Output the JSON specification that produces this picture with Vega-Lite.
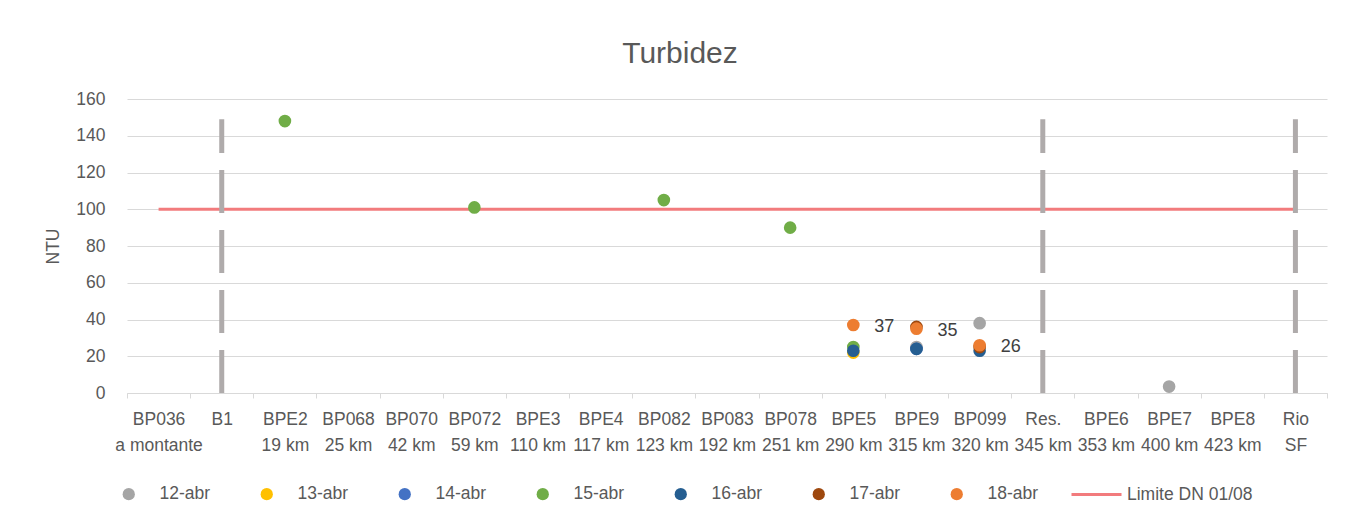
{
  "$schema": "https://vega.github.io/schema/vega-lite/v6.json",
  "width": 1200,
  "height": 294,
  "autosize": {"type": "none"},
  "padding": {"left": 127, "top": 99, "right": 29, "bottom": 132},
  "background": "white",
  "title": {
    "text": "Turbidez",
    "font": "Liberation Sans",
    "fontSize": 30,
    "fontWeight": "normal",
    "color": "#595959",
    "anchor": "middle",
    "dx": -47,
    "baseline": "alphabetic",
    "offset": -3
  },
  "config": {
    "font": "Liberation Sans",
    "view": {"stroke": null},
    "legend": {"padding": 0},
    "axisY": {
      "labelOverlap": false,
      "grid": true,
      "gridColor": "#D9D9D9",
      "domain": false,
      "ticks": false,
      "labelPadding": 22,
      "labelFontSize": 17.5,
      "labelColor": "#595959",
      "titleFontSize": 17.5,
      "titleFontWeight": "normal",
      "titleColor": "#595959",
      "titlePadding": 13
    }
  },
  "datasets": {
    "medicoes": [
      {"estacao": "BPE9|315 km", "data": "12-abr", "ntu": 25},
      {"estacao": "BP099|320 km", "data": "12-abr", "ntu": 38},
      {"estacao": "BPE7|400 km", "data": "12-abr", "ntu": 3.5},
      {"estacao": "BPE5|290 km", "data": "13-abr", "ntu": 22},
      {"estacao": "BPE9|315 km", "data": "14-abr", "ntu": 24},
      {"estacao": "BPE2|19 km", "data": "15-abr", "ntu": 148},
      {"estacao": "BP072|59 km", "data": "15-abr", "ntu": 101},
      {"estacao": "BP082|123 km", "data": "15-abr", "ntu": 105},
      {"estacao": "BP078|251 km", "data": "15-abr", "ntu": 90},
      {"estacao": "BPE5|290 km", "data": "15-abr", "ntu": 25},
      {"estacao": "BPE5|290 km", "data": "16-abr", "ntu": 23},
      {"estacao": "BPE9|315 km", "data": "16-abr", "ntu": 24},
      {"estacao": "BP099|320 km", "data": "16-abr", "ntu": 23},
      {"estacao": "BPE9|315 km", "data": "17-abr", "ntu": 36},
      {"estacao": "BP099|320 km", "data": "17-abr", "ntu": 25},
      {"estacao": "BPE5|290 km", "data": "18-abr", "ntu": 37},
      {"estacao": "BPE9|315 km", "data": "18-abr", "ntu": 35},
      {"estacao": "BP099|320 km", "data": "18-abr", "ntu": 26}
    ],
    "limite": [
      {"estacao": "BP036|a montante", "serie": "Limite DN 01/08", "ntu": 100},
      {"estacao": "Rio|SF", "serie": "Limite DN 01/08", "ntu": 100}
    ],
    "divisores": [
      {"estacao": "B1"},
      {"estacao": "Res.|345 km"},
      {"estacao": "Rio|SF"}
    ]
  },
  "encoding": {
    "x": {
      "field": "estacao",
      "type": "nominal",
      "sort": null,
      "scale": {
        "type": "band",
        "paddingInner": 0,
        "paddingOuter": 0,
        "domain": ["BP036|a montante", "B1", "BPE2|19 km", "BP068|25 km", "BP070|42 km", "BP072|59 km", "BPE3|110 km", "BPE4|117 km", "BP082|123 km", "BP083|192 km", "BP078|251 km", "BPE5|290 km", "BPE9|315 km", "BP099|320 km", "Res.|345 km", "BPE6|353 km", "BPE7|400 km", "BPE8|423 km", "Rio|SF"]
      },
      "axis": {
        "title": null,
        "labelAngle": 0,
        "labelExpr": "split(datum.label, '|')",
        "labelFontSize": 17.5,
        "labelColor": "#595959",
        "labelPadding": 12,
        "labelLineHeight": 26,
        "labelOverlap": false,
        "labelLimit": 0,
        "tickBand": "extent",
        "tickSize": 5,
        "tickColor": "#D9D9D9",
        "domainColor": "#D9D9D9",
        "grid": false
      }
    }
  },
  "layer": [
    {
      "data": {"name": "limite"},
      "mark": {"type": "line", "strokeWidth": 3},
      "encoding": {
        "y": {
          "field": "ntu",
          "type": "quantitative",
          "title": "NTU",
          "scale": {"domain": [0, 160], "nice": false},
          "axis": {"title": "NTU", "tickCount": 20, "values": [0, 20, 40, 60, 80, 100, 120, 140, 160]}
        },
        "stroke": {
          "field": "serie",
          "type": "nominal",
          "scale": {"range": ["#F27B7D"]},
          "legend": {
            "title": null,
            "orient": "none",
            "legendX": 943,
            "legendY": 369,
            "symbolType": "stroke",
            "symbolSize": 2500,
            "symbolStrokeWidth": 3,
            "labelOffset": 4,
            "labelFontSize": 17.5,
            "labelColor": "#595959"
          }
        }
      }
    },
    {
      "data": {"name": "divisores"},
      "mark": {"type": "rule", "strokeWidth": 5, "color": "#AFABAB", "strokeDash": [43, 17]},
      "encoding": {
        "y": {"datum": 0, "type": "quantitative", "title": "NTU", "axis": {"title": "NTU", "tickCount": 20, "values": [0, 20, 40, 60, 80, 100, 120, 140, 160]}},
        "y2": {"datum": 149}
      }
    },
    {
      "data": {"name": "medicoes"},
      "mark": {"type": "point", "filled": true, "size": 160, "opacity": 1},
      "encoding": {
        "y": {"field": "ntu", "type": "quantitative", "title": "NTU", "axis": {"title": "NTU", "tickCount": 20, "values": [0, 20, 40, 60, 80, 100, 120, 140, 160]}},
        "color": {
          "field": "data",
          "type": "nominal",
          "scale": {
            "domain": ["12-abr", "13-abr", "14-abr", "15-abr", "16-abr", "17-abr", "18-abr"],
            "range": ["#A5A5A5", "#FFC000", "#4472C4", "#70AD47", "#255E91", "#9E480E", "#ED7D31"]
          },
          "legend": {
            "title": null,
            "orient": "none",
            "direction": "horizontal",
            "columns": 7,
            "legendX": -7,
            "legendY": 386,
            "symbolType": "circle",
            "symbolSize": 150,
            "labelOffset": 22,
            "columnPadding": 47,
            "labelFontSize": 17.5,
            "labelColor": "#595959"
          }
        }
      }
    },
    {
      "data": {"name": "medicoes"},
      "transform": [{"filter": "datum.data == '18-abr'"}],
      "mark": {"type": "text", "align": "left", "baseline": "middle", "dx": 21, "dy": 2, "fontSize": 18, "color": "#404040"},
      "encoding": {
        "y": {"field": "ntu", "type": "quantitative", "title": "NTU", "axis": {"title": "NTU", "tickCount": 20, "values": [0, 20, 40, 60, 80, 100, 120, 140, 160]}},
        "text": {"field": "ntu", "type": "quantitative"}
      }
    }
  ]
}
